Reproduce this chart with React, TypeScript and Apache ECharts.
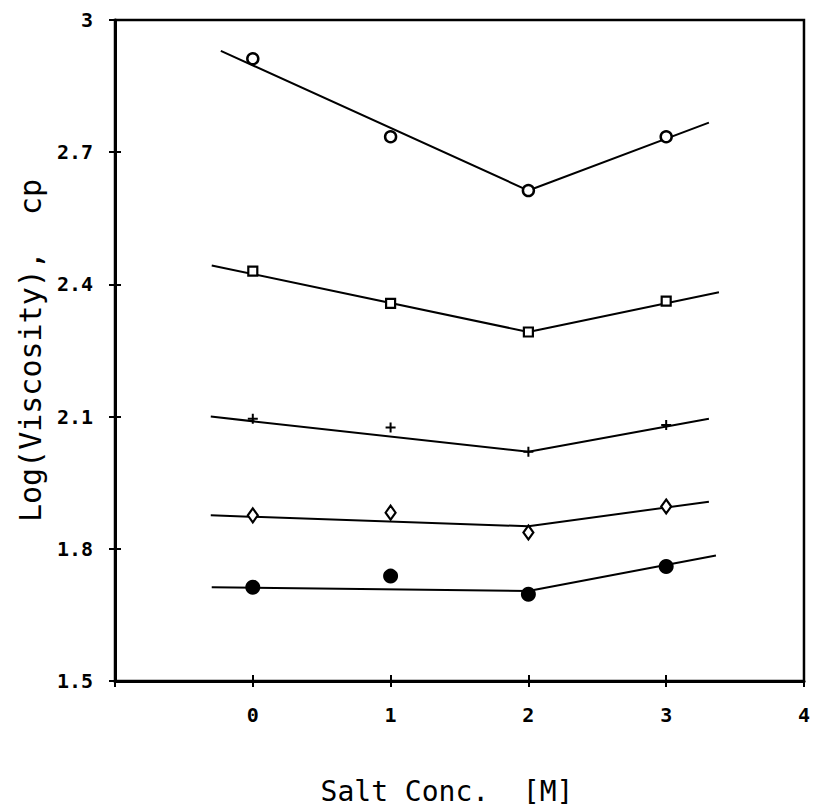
import React, { useEffect, useRef } from "react";
import * as echarts from "echarts";

// Axis ticks
const xTickValues = [-1, 0, 1, 2, 3, 4];
const yTickValues = [1.5, 1.8, 2.1, 2.4, 2.7, 3];

// Salt concentration (M) of measured points
const saltConc = [0, 1, 2, 3];

// Measured log(viscosity) values
const openCircleVals = [2.912, 2.735, 2.613, 2.735];
const openSquareVals = [2.43, 2.357, 2.292, 2.362];
const plusVals = [2.095, 2.075, 2.02, 2.081];
const diamondVals = [1.876, 1.882, 1.837, 1.896];
const filledCircleVals = [1.713, 1.738, 1.697, 1.76];

// Fitted line segments: x at start, vertex, end and matching y values
const fitCircleX = [-0.232, 2, 3.31];
const fitCircleY = [2.93, 2.613, 2.767];
const fitSquareX = [-0.298, 2, 3.383];
const fitSquareY = [2.443, 2.292, 2.382];
const fitPlusX = [-0.305, 2, 3.31];
const fitPlusY = [2.1, 2.02, 2.095];
const fitDiamondX = [-0.305, 2, 3.31];
const fitDiamondY = [1.876, 1.851, 1.907];
const fitFilledX = [-0.298, 2, 3.361];
const fitFilledY = [1.713, 1.704, 1.785];

const PLUS = "path://M4,0H6V4H10V6H6V10H4V6H0V4H4Z";

const zip = (xs: number[], ys: number[]) => xs.map((x, i) => [x, ys[i]]);

export default function App() {
  const ref = useRef<HTMLDivElement>(null);
  useEffect(() => {
    if (!ref.current) return;
    const chart = echarts.init(ref.current, undefined, { renderer: "svg" });
    const mono = "DejaVu Sans Mono";
    const lineSeries = (xs: number[], ys: number[]) => ({
      type: "line",
      data: zip(xs, ys),
      showSymbol: false,
      symbol: "none",
      lineStyle: { color: "#000", width: 2 },
      z: 2,
    });
    const markSeries = (vals: number[], symbol: string, size: any, filled: boolean, bw = 2.5) => ({
      type: "scatter",
      data: zip(saltConc, vals),
      symbol,
      symbolSize: size,
      itemStyle: {
        color: filled ? "#000" : "#fff",
        borderColor: "#000",
        borderWidth: filled ? 0 : bw,
        opacity: 1,
      },
      z: 3,
    });
    const tickStyle = { color: "#000", width: 2 };
    chart.setOption({
      animation: false,
      backgroundColor: "#fff",
      grid: {
        left: 115,
        top: 20,
        width: 692,
        height: 661,
        show: true,
        borderColor: "#000",
        borderWidth: 2.5,
      },
      xAxis: [
        {
          type: "value",
          min: xTickValues[0],
          max: xTickValues[xTickValues.length - 1],
          interval: 1,
          splitLine: { show: false },
          axisLine: { onZero: false, lineStyle: { color: "#000", width: 3 } },
          axisTick: { show: true, inside: false, length: 6, lineStyle: tickStyle },
          axisLabel: {
            margin: 24,
            fontFamily: mono,
            fontWeight: "bold",
            fontSize: 20,
            color: "#000",
            formatter: (v: number) => (v < 0 ? "" : String(v)),
          },
        },
        {
          type: "value",
          position: "bottom",
          min: xTickValues[0],
          max: xTickValues[xTickValues.length - 1],
          interval: 1,
          splitLine: { show: false },
          axisLine: { show: false, onZero: false },
          axisTick: { show: true, inside: true, length: 6, lineStyle: tickStyle },
          axisLabel: { show: false },
        },
      ],
      yAxis: [
        {
          type: "value",
          min: yTickValues[0],
          max: yTickValues[yTickValues.length - 1],
          interval: 0.3,
          splitLine: { show: false },
          axisLine: { onZero: false, lineStyle: { color: "#000", width: 3 } },
          axisTick: { show: true, inside: false, length: 6, lineStyle: tickStyle },
          axisLabel: {
            margin: 22,
            fontFamily: mono,
            fontWeight: "bold",
            fontSize: 20,
            color: "#000",
            formatter: (v: number) => (Math.abs(v - 3) < 1e-9 ? "3" : v.toFixed(1)),
          },
          name: "Log(Viscosity),  cp",
          nameLocation: "middle",
          nameGap: 68,
          nameTextStyle: { fontFamily: mono, fontSize: 30, color: "#000" },
        },
        {
          type: "value",
          position: "left",
          min: yTickValues[0],
          max: yTickValues[yTickValues.length - 1],
          interval: 0.3,
          splitLine: { show: false },
          axisLine: { show: false, onZero: false },
          axisTick: { show: true, inside: true, length: 6, lineStyle: tickStyle },
          axisLabel: { show: false },
        },
      ],
      graphic: [
        {
          type: "text",
          x: 447,
          y: 791,
          style: {
            text: "Salt Conc.  [M]",
            fontFamily: mono,
            fontSize: 28,
            fill: "#000",
            textAlign: "center",
            textVerticalAlign: "middle",
          },
        },
      ],
      series: [
        lineSeries(fitCircleX, fitCircleY),
        lineSeries(fitSquareX, fitSquareY),
        lineSeries(fitPlusX, fitPlusY),
        lineSeries(fitDiamondX, fitDiamondY),
        lineSeries(fitFilledX, fitFilledY),
        markSeries(openCircleVals, "circle", 11, false),
        markSeries(openSquareVals, "rect", 9, false, 2.2),
        markSeries(plusVals, PLUS, 10, true),
        markSeries(diamondVals, "diamond", [10, 14], false, 2.2),
        markSeries(filledCircleVals, "circle", 15, true),
      ],
    });
    return () => chart.dispose();
  }, []);
  return (
    <div
      ref={ref}
      style={{ position: "fixed", left: 0, top: 0, width: 813, height: 811, background: "#fff" }}
    />
  );
}
